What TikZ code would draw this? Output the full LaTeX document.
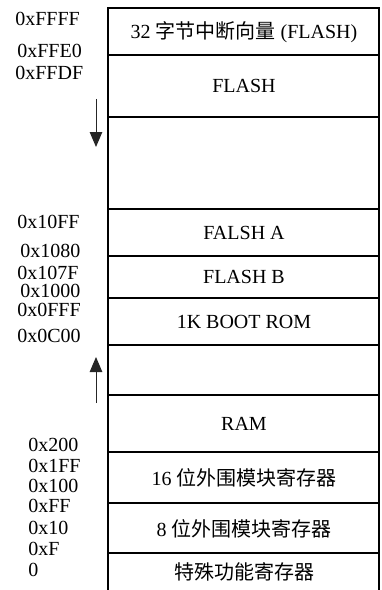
\documentclass[tikz,border=0pt]{standalone}
\usepackage{fontspec}
\setmainfont{Liberation Serif}
\newfontfamily\cjk{Noto Sans CJK SC}
\usetikzlibrary{arrows.meta}

\begin{document}
\begin{tikzpicture}
        [
          x=0.6pt, y=-0.6pt,
          addr/.style={anchor=west, inner sep=0pt, font=\fontsize{12}{14}\selectfont},
          cell/.style={inner sep=0pt, font=\fontsize{12}{14}\selectfont},
          growarrow/.style={line width=0.6pt, black!85, -{Triangle[width=7.5pt,length=9pt]}}
        ]
        \useasboundingbox (0,0) rectangle (381,590);
        % memory map frame
        \draw [line width=1.1pt] (108,590) -- (108,8) -- (379,8) -- (379,590);
        \foreach \y in {55,117,209,256,298,345,395,452,503,553} {
            \draw [line width=1.1pt] (108,\y) -- (379,\y);
        }
        % cell contents
        \node [cell] (vec) at (244,32) {32 {\cjk 字节中断向量} (FLASH)};
        \node [cell] (flash) at (244,86) {FLASH};
        \node [cell] (falsha) at (244,233) {FALSH A};
        \node [cell] (flashb) at (244,277) {FLASH B};
        \node [cell] (boot) at (244,322) {1K BOOT ROM};
        \node [cell] (ram) at (244,424) {RAM};
        \node [cell] (per16) at (244,478) {16 {\cjk 位外围模块寄存器}};
        \node [cell] (per8) at (244,529) {8 {\cjk 位外围模块寄存器}};
        \node [cell] (sfr) at (244,572) {{\cjk 特殊功能寄存器}};
        % addresses
        \foreach \x/\y/\t in {15/19/0xFFFF,17/51/0xFFE0,15/73/0xFFDF,
                              17/222/0x10FF,20/251/0x1080,17/273/0x107F,
                              20/291/0x1000,17/310/0x0FFF,17/336/0x0C00,
                              28/445/0x200,28/466/0x1FF,28/486/0x100,
                              28/506/0xFF,28/528/0x10,28/549/0xF,28/570/0} {
            \node [addr] (addr-\t) at (\x,\y) {\t};
        }
        % growth directions
        \coordinate (down-s) at (96,99);
        \coordinate (down-e) at (96,147);
        \coordinate (up-s) at (96,403);
        \coordinate (up-e) at (96,357);
        \draw [growarrow] (down-s) -- (down-e);
        \draw [growarrow] (up-s) -- (up-e);
\end{tikzpicture}
\end{document}
